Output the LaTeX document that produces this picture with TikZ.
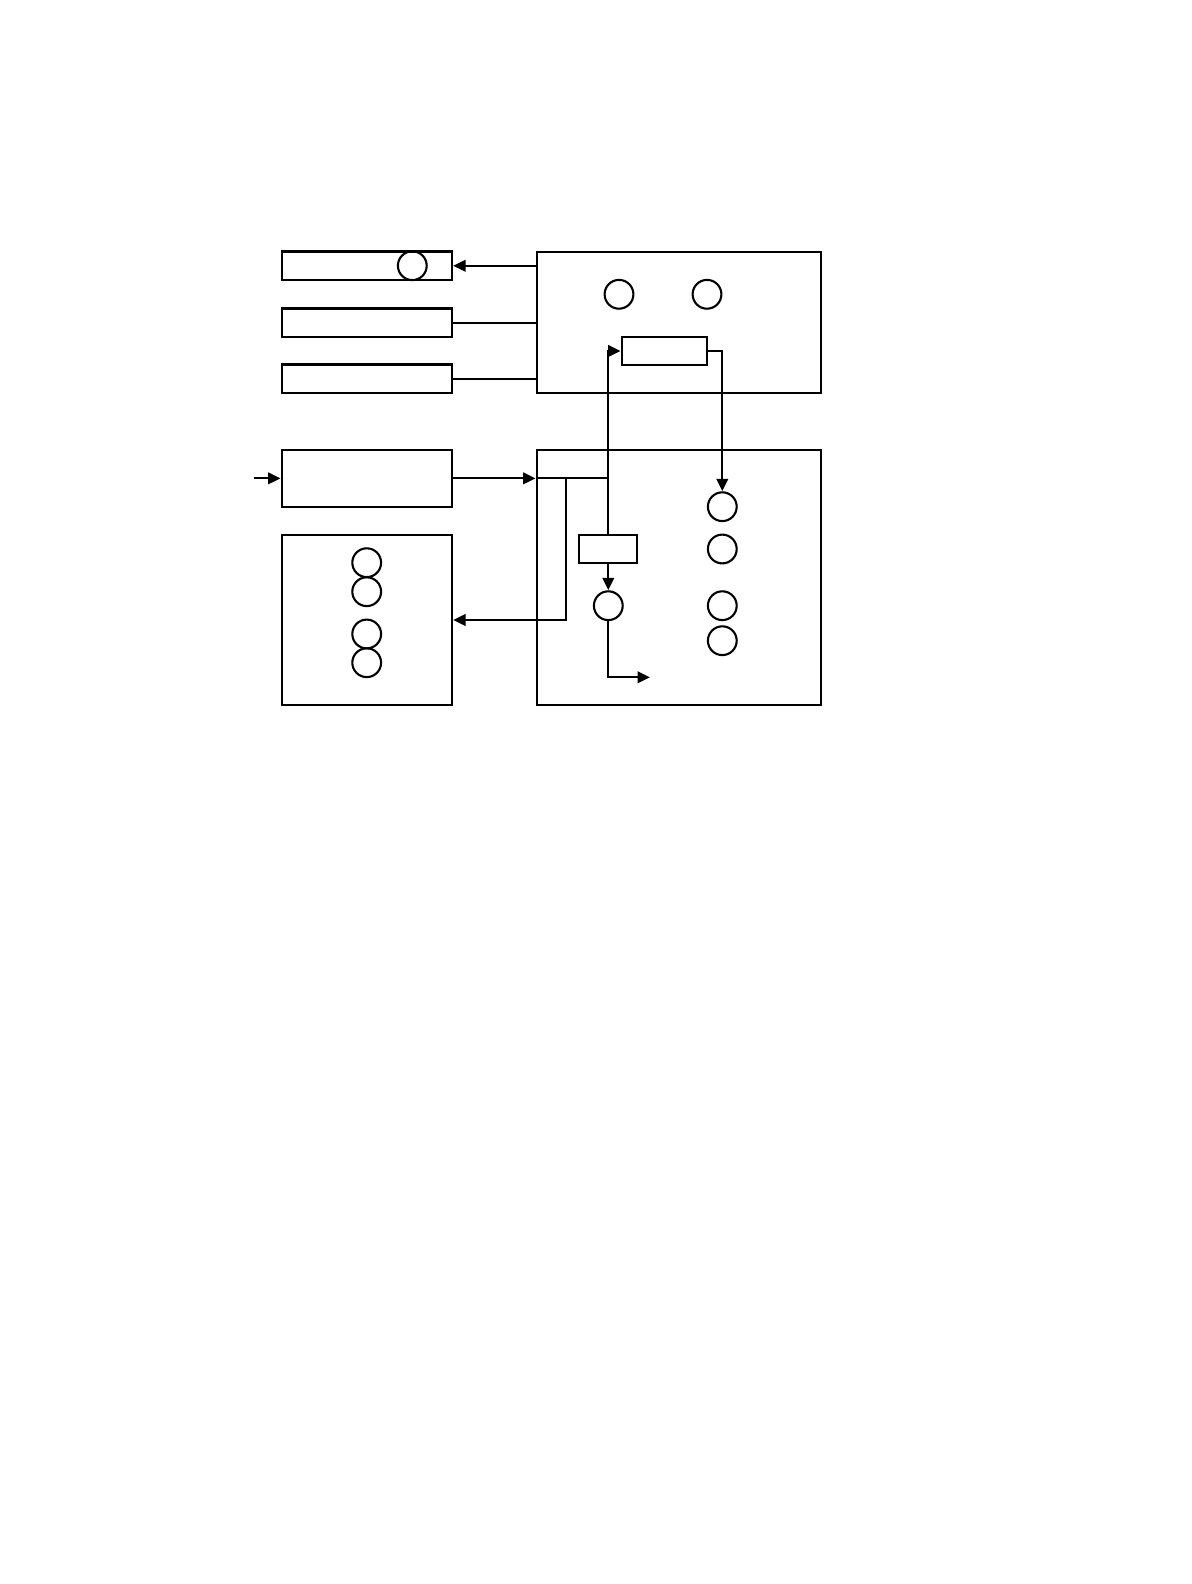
\documentclass[tikz,border=0pt]{standalone}
\usepackage{tikz}
\usetikzlibrary{arrows.meta}

\tikzset{
  blk/.style={draw, line width=1.3pt, inner sep=0pt, minimum width=3.406cm},
  ring/.style={draw, circle, line width=1.2pt, inner sep=0pt, minimum size=0.576cm},
  flow/.style={line width=1.3pt, -{Triangle[length=2.5mm, width=2.3mm]}},
  link/.style={line width=1.3pt}
}

\begin{document}
\begin{tikzpicture}[x=0.02cm, y=-0.02cm]
        \useasboundingbox []  (0,0) rectangle (1191,1584);

        \node [blk, minimum height=0.57cm]  (bar1) at (366.85,265.8) {};
        \node [blk, minimum height=0.57cm]  (bar2) at (366.85,322.8) {};
        \node [blk, minimum height=0.57cm]  (bar3) at (366.85,378.8) {};
        \node [ring]  (barring) at (412.3,265.7) {};

        \node [blk, minimum width=5.686cm, minimum height=2.826cm]  (upper) at (678.85,322.35) {};
        \node [ring]  (upring1) at (619,294.3) {};
        \node [ring]  (upring2) at (707,294.3) {};
        \node [blk, minimum width=1.706cm, minimum height=0.56cm]  (upbox) at (664.35,351) {};

        \node [blk, minimum height=1.134cm]  (feed) at (366.85,478.35) {};
        \node [blk, minimum height=3.4cm]  (store) at (366.85,620) {};
        \foreach \y [count=\i] in {562.7,591.7,634,662.7}
          \node [ring]  (storering\i) at (366.7,\y) {};

        \node [blk, minimum width=5.686cm, minimum height=5.1cm]  (lower) at (678.85,577.5) {};
        \node [blk, minimum width=1.16cm, minimum height=0.566cm]  (valve) at (608.3,549.15) {};
        \node [ring]  (pump) at (608.3,605.7) {};
        \foreach \y [count=\i] in {506.7,549,605.7,640.7}
          \node [ring]  (lowring\i) at (722.3,\y) {};

        \coordinate (inlet)  at (254,478.35);
        \coordinate (split)  at (566,478.35);
        \coordinate (outlet) at (650,677.3);

        \draw [flow]  (upper.west |- bar1) -- (bar1.east);
        \draw [link]  (bar2.east) -- (upper.west |- bar2);
        \draw [link]  (bar3.east) -- (upper.west |- bar3);

        \draw [flow]  (inlet) -- (feed.west);
        \draw [flow]  (feed.east) -- (lower.west |- feed);
        \draw [link]  (lower.west |- feed) -- (valve.north |- feed);
        \draw [flow]  (valve.north) -- (valve.north |- upbox.west) -- (upbox.west);
        \draw [flow]  (split) -- (split |- store.east) -- (store.east);
        \draw [flow]  (upbox.east) -- (upbox.east -| lowring1) -- (lowring1.north);
        \draw [flow]  (valve.south) -- (pump.north);
        \draw [flow]  (pump.south) -- (pump.south |- outlet) -- (outlet);
      \end{tikzpicture}
\end{document}
